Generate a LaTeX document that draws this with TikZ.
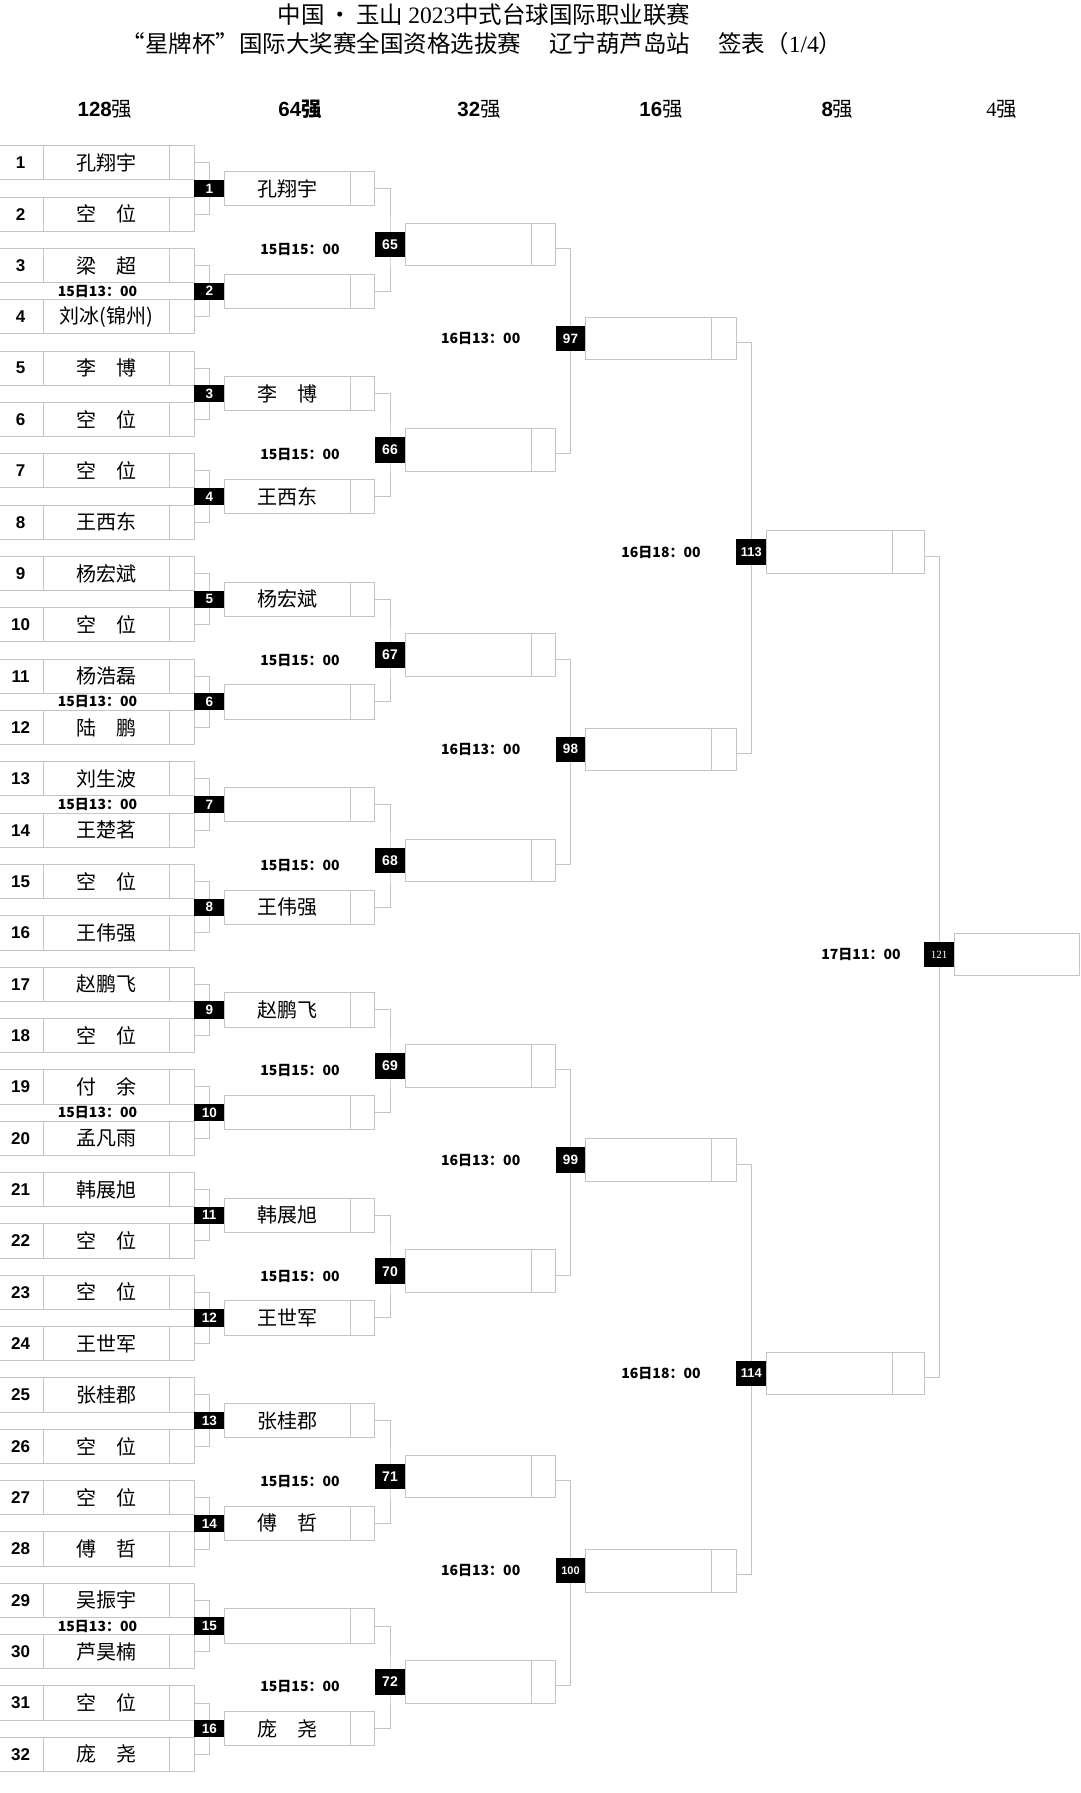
\documentclass[tikz,border=0pt]{standalone}
\usepackage{fontspec}
\setmainfont{Liberation Sans}
\newfontfamily\cjk{Noto Sans CJK SC}
\newfontfamily\serifnum{Liberation Serif}
\usetikzlibrary{calc,backgrounds}
\definecolor{linegray}{RGB}{196,196,196}
\newcommand\fname{\cjk\fontsize{20}{24}\selectfont}
\newcommand\fnum{\bfseries\fontsize{17}{20}\selectfont}
\newcommand\ftime{\cjk\bfseries\fontsize{14}{16}\selectfont}
\newcommand\fhead{\bfseries\fontsize{20.5}{22}\selectfont}
\newcommand\ftitle{\cjk\fontsize{23.5}{26}\selectfont}
\tikzset{
  cell/.style={draw=linegray, line width=1pt, minimum height=34.2pt, inner sep=0pt, outer sep=0pt},
  bigcell/.style={draw=linegray, line width=1pt, minimum height=42.5pt, inner sep=0pt, outer sep=0pt},
  blk/.style={fill=black, text=white, inner sep=0pt, outer sep=0pt, minimum width=30pt},
  conn/.style={draw=linegray, line width=1pt},
  lbl/.style={inner sep=0pt}
}
\begin{document}
\begin{tikzpicture}[x=1pt,y=-1pt]
\useasboundingbox (0,0) rectangle (1080,1793);
\begin{scope}[on background layer]
\fill[white] (0,0) rectangle (1080,1793);
\end{scope}

% title
\node[lbl] (t1) at (484,15) {\ftitle 中国\,•\,玉山 {\serifnum 2023}中式台球国际职业联赛};
\node[lbl] (t2) at (482,44) {\ftitle “星牌杯”国际大奖赛全国资格选拔赛\hspace{1.2em}辽宁葫芦岛站\hspace{1.2em}签表（{\serifnum 1/4}）};

% headers
\node[lbl] (h1) at (105,109.5) {\fhead 128{\cjk\mdseries 强}};
\node[lbl] (h2) at (300,109.5) {\fhead 64{\cjk 强}};
\node[lbl] (h3) at (479,109.5) {\fhead 32{\cjk\mdseries 强}};
\node[lbl] (h4) at (661,109.5) {\fhead 16{\cjk\mdseries 强}};
\node[lbl] (h5) at (837.5,109.5) {\fhead 8{\cjk\mdseries 强}};
\node[lbl] (h6) at (1001.7,109.5) {\fontsize{20.5}{22}\selectfont\serifnum 4{\cjk 强}};

% 128 rows
\foreach \nm [count=\i] in {孔翔宇,空　位,梁　超,刘冰(锦州),李　博,空　位,空　位,王西东,杨宏斌,空　位,杨浩磊,陆　鹏,刘生波,王楚茗,空　位,王伟强,赵鹏飞,空　位,付　余,孟凡雨,韩展旭,空　位,空　位,王世军,张桂郡,空　位,空　位,傅　哲,吴振宇,芦昊楠,空　位,庞　尧} {
  \pgfmathsetmacro{\yc}{162.8+51.34*(\i-1)}
  \node[cell, minimum width=45.3pt] (n\i) at (20.65,\yc) {\fnum\i};
  \node[cell, minimum width=126pt] (p\i) at (106.3,\yc) {\fname\nm};
  \node[cell, minimum width=25pt] (s\i) at (181.8,\yc) {};
}

% 64 round
\foreach \wn [count=\k] in {孔翔宇,{},李　博,王西东,杨宏斌,{},{},王伟强,赵鹏飞,{},韩展旭,王世军,张桂郡,傅　哲,{},庞　尧} {
  \pgfmathtruncatemacro{\a}{2*\k-1}
  \pgfmathtruncatemacro{\b}{2*\k}
  \pgfmathsetmacro{\yc}{188.5+102.68*(\k-1)}
  \node[blk, minimum height=17.1pt] (m\k) at (209.3,\yc) {\bfseries\fontsize{13.5}{15}\selectfont\k};
  \node[cell, minimum width=126pt] (w\k) at (287.3,\yc) {\fname\wn};
  \node[cell, minimum width=24pt] (ws\k) at (362.3,\yc) {};
  \begin{scope}[on background layer]
    \draw[conn] (s\a.east) -| (m\k.center) |- (s\b.east);
  \end{scope}
}
\foreach \k in {2,6,7,10,15} {
  \node[lbl] (tm\k) at (97.5,{188.5+102.68*(\k-1)}) {\ftime 15日13：00};
}

% 32 round
\foreach \j in {1,...,8} {
  \pgfmathtruncatemacro{\a}{2*\j-1}
  \pgfmathtruncatemacro{\b}{2*\j}
  \pgfmathtruncatemacro{\mn}{64+\j}
  \pgfmathsetmacro{\yc}{244.4+205.36*(\j-1)}
  \node[blk, minimum height=25.6pt] (q\j) at (390,\yc) {\bfseries\fontsize{14}{15}\selectfont\mn};
  \node[bigcell, minimum width=126.3pt] (x\j) at (468.15,\yc) {};
  \node[bigcell, minimum width=24.4pt] (xs\j) at (543.5,\yc) {};
  \node[lbl] (tq\j) at (300,\yc+5) {\ftime 15日15：00};
  \begin{scope}[on background layer]
    \draw[conn] (ws\a.east) -| (q\j.center) |- (ws\b.east);
  \end{scope}
}

% 16 round
\foreach \m/\fs in {1/13.5,2/13.5,3/13.5,4/11} {
  \pgfmathtruncatemacro{\a}{2*\m-1}
  \pgfmathtruncatemacro{\b}{2*\m}
  \pgfmathtruncatemacro{\mn}{96+\m}
  \pgfmathsetmacro{\yc}{338.6+410.72*(\m-1)}
  \node[blk, minimum height=25.3pt] (e\m) at (570.5,\yc) {\bfseries\fontsize{\fs}{15}\selectfont\mn};
  \node[bigcell, minimum width=126pt] (y\m) at (648.7,\yc) {};
  \node[bigcell, minimum width=24.6pt] (ys\m) at (724,\yc) {};
  \node[lbl] (te\m) at (480.7,\yc) {\ftime 16日13：00};
  \begin{scope}[on background layer]
    \draw[conn] ($(xs\a.east)+(0,4)$) -| (e\m.center) |- ($(xs\b.east)+(0,4)$);
  \end{scope}
}

% 8 round
\foreach \n in {1,2} {
  \pgfmathtruncatemacro{\a}{2*\n-1}
  \pgfmathtruncatemacro{\b}{2*\n}
  \pgfmathtruncatemacro{\mn}{112+\n}
  \pgfmathsetmacro{\yc}{552+821.4*(\n-1)}
  \node[blk, minimum width=30.7pt, minimum height=25.7pt] (f\n) at (751.3,\yc) {\bfseries\fontsize{12.8}{15}\selectfont\mn};
  \node[bigcell, minimum width=126pt] (z\n) at (829.7,\yc) {};
  \node[bigcell, minimum width=31.6pt] (zs\n) at (908.5,\yc) {};
  \node[lbl] (tf\n) at (661,\yc) {\ftime 16日18：00};
  \begin{scope}[on background layer]
    \draw[conn] ($(ys\a.east)+(0,4)$) -| (f\n.center) |- ($(ys\b.east)+(0,4)$);
  \end{scope}
}

% final
\node[blk, minimum height=25.6pt] (g) at (939,954.5) {\serifnum\fontsize{11}{12}\selectfont 121};
\node[bigcell, minimum width=125pt] (fin) at (1016.5,954.5) {};
\node[lbl] (tg) at (861,954.5) {\ftime 17日11：00};
\begin{scope}[on background layer]
  \draw[conn] ($(zs1.east)+(0,4.5)$) -| (g.center) |- ($(zs2.east)+(0,4.5)$);
\end{scope}
\end{tikzpicture}
\end{document}
